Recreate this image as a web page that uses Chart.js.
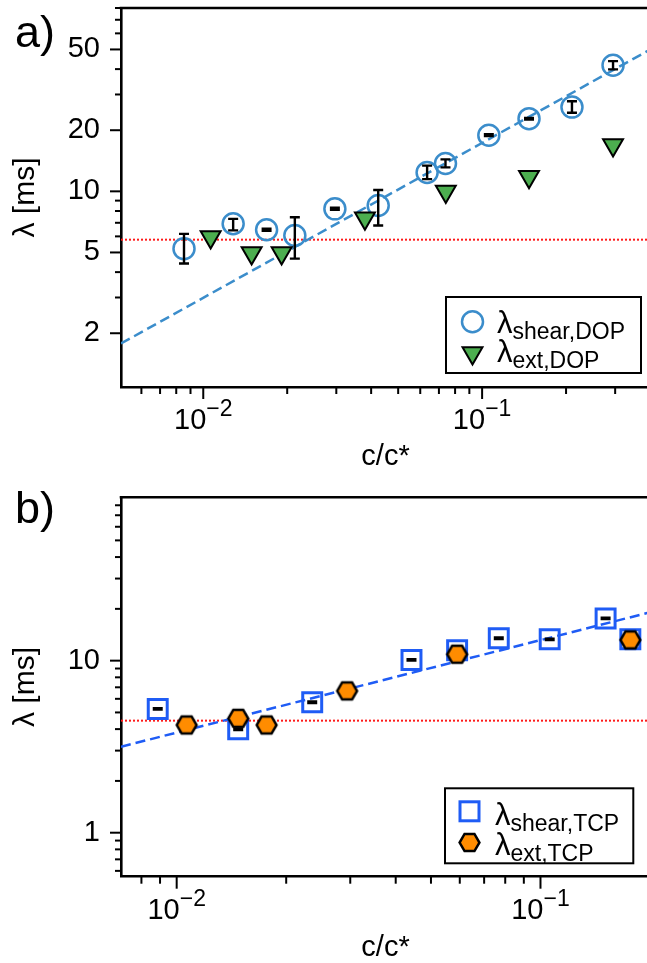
<!DOCTYPE html>
<html><head><meta charset="utf-8">
<script src="https://cdn.jsdelivr.net/npm/chart.js@4"></script>
<style>
html,body{margin:0;padding:0;background:#fff;overflow:hidden;}
#wrap{position:relative;width:647px;height:963px;overflow:hidden;background:#fff;}
#ca{position:absolute;left:0;top:0;}
#cb{position:absolute;left:0;top:470px;}
</style></head><body>
<div id="wrap"><canvas id="ca" width="650" height="490"></canvas><canvas id="cb" width="650" height="510"></canvas></div>
<script>
// ---------- Panel a) DOP ----------
const cShearDOP   = [0.00853, 0.0128, 0.01687, 0.0213, 0.02965, 0.0424, 0.0635, 0.0739, 0.1057, 0.1473, 0.210, 0.2948];
const lamShearDOP = [5.22, 6.92, 6.47, 6.06, 8.2, 8.51, 12.39, 13.72, 18.9, 22.8, 26.0, 41.8];
const errLoShearDOP = [0.81, 0.5, 0.08, 1.4, 0.1, 1.72, 0.9, 0.6, 0.2, 0.2, 1.6, 1.9];
const errHiShearDOP = [0.95, 0.4, 0.08, 1.4, 0.1, 1.65, 1.0, 0.65, 0.2, 0.2, 1.8, 2.0];
const cExtDOP   = [0.01063, 0.01491, 0.0191, 0.038, 0.0741, 0.1473, 0.2948];
const lamExtDOP = [5.95, 4.97, 4.97, 7.37, 9.97, 11.8, 16.9];
const fitDOP_c   = [0.00507, 0.4];
const fitDOP_lam = [1.78, 49.9];
const refDOP = 5.78;

// ---------- Panel b) TCP ----------
const cShearTCP   = [0.00887, 0.01476, 0.02358, 0.0442, 0.059, 0.0768, 0.106, 0.151, 0.1766];
const lamShearTCP = [5.24, 3.99, 5.73, 10.1, 11.5, 13.5, 13.3, 17.6, 13.3];
const errShearTCP = [0.05, 0.04, 0.06, 0.1, 0.12, 0.14, 0.13, 0.18, 0.13];
const cExtTCP   = [0.01065, 0.01476, 0.01767, 0.0294, 0.059, 0.1766];
const lamExtTCP = [4.23, 4.62, 4.23, 6.67, 10.9, 13.2];
const fitTCP_c   = [0.00703, 0.2];
const fitTCP_lam = [3.16, 19.1];
const refTCP = 4.48;

// ---------- ticks / labels ----------
const xTicksA  = [0.006,0.007,0.008,0.009,0.01,0.02,0.03,0.04,0.05,0.06,0.07,0.08,0.09,0.1,0.2,0.3];
const xLabelsA = [0.01, 0.1];
const xLabelTextA = [['10','−2'],['10','−1']];
const yTicksA  = [2,3,4,5,6,7,8,9,10,20,30,40,50,60,70,80];
const yLabelsA = [2,5,10,20,50];
const xTicksB  = [0.008,0.009,0.01,0.02,0.03,0.04,0.05,0.06,0.07,0.08,0.09,0.1,0.2];
const xLabelsB = [0.01, 0.1];
const xLabelTextB = [['10','−2'],['10','−1']];
const yTicksB  = [0.6,0.7,0.8,0.9,1,2,3,4,5,6,7,8,9,10,20,30,40,50,60,70,80];
const yLabelsB = [1,10];

const FONT = "'Liberation Sans', Arial, Helvetica, sans-serif";
const BLUE_A = '#3b8dcb';
const BLUE_B = '#1f5cf5';
const GREEN = '#4cae4f';
const ORANGE = '#ff8c00';
const RED = '#ff1a1a';

function pts(xs, ys){ return xs.map((x,i)=>({x:x, y:ys[i]})); }

function makeHexagon(R, fill, stroke, lw){
  const size = Math.ceil(2*R + lw + 4);
  const c = document.createElement('canvas'); c.width = size; c.height = size;
  const g = c.getContext('2d');
  g.beginPath();
  for (let k=0;k<6;k++){
    const a = Math.PI/3*k;
    const px = size/2 + R*Math.cos(a), py = size/2 + R*Math.sin(a);
    if (k) g.lineTo(px,py); else g.moveTo(px,py);
  }
  g.closePath(); g.fillStyle = fill; g.fill();
  g.lineWidth = lw; g.strokeStyle = stroke; g.lineJoin = 'miter'; g.stroke();
  return c;
}
const HEX = makeHexagon(9.9, ORANGE, '#000', 2.5);

const errorBarPlugin = {
  id: 'errbars',
  afterDatasetDraw(chart, args) {
    const ds = chart.data.datasets[args.index];
    if (!ds.errLo) return;
    const ctx = chart.ctx, xs = chart.scales.x, ys = chart.scales.y;
    const cap = 5;
    ctx.save(); ctx.strokeStyle = '#000'; ctx.lineWidth = 2.4; ctx.lineCap = 'butt';
    ds.data.forEach((p,i)=>{
      const px = xs.getPixelForValue(p.x);
      const yT = ys.getPixelForValue(p.y + ds.errHi[i]);
      const yB = ys.getPixelForValue(p.y - ds.errLo[i]);
      ctx.beginPath();
      ctx.moveTo(px, yT); ctx.lineTo(px, yB);
      ctx.moveTo(px-cap, yT); ctx.lineTo(px+cap, yT);
      ctx.moveTo(px-cap, yB); ctx.lineTo(px+cap, yB);
      ctx.stroke();
    });
    ctx.restore();
  }
};

function drawMarker(ctx, kind, x, y) {
  ctx.save();
  if (kind === 'circle') {
    ctx.beginPath(); ctx.arc(x, y, 10.5, 0, Math.PI*2);
    ctx.lineWidth = 2.5; ctx.strokeStyle = BLUE_A; ctx.stroke();
  } else if (kind === 'tri') {
    const r = 11.5; ctx.beginPath();
    [180, 300, 60].forEach((d,k)=>{ const a = d*Math.PI/180; const px = x + Math.sin(a)*r, py = y - Math.cos(a)*r; k?ctx.lineTo(px,py):ctx.moveTo(px,py); });
    ctx.closePath(); ctx.fillStyle = GREEN; ctx.fill(); ctx.lineWidth = 2; ctx.strokeStyle = '#000'; ctx.stroke();
  } else if (kind === 'rect') {
    const s = 9.5; ctx.lineWidth = 3; ctx.strokeStyle = BLUE_B; ctx.strokeRect(x-s, y-s, 2*s, 2*s);
  } else if (kind === 'hex') {
    ctx.drawImage(HEX, x - HEX.width/2, y - HEX.height/2);
  }
  ctx.restore();
}

const decorPlugin = {
  id: 'decor',
  afterDraw(chart, args, o) {
    const ctx = chart.ctx, ca = chart.chartArea, xs = chart.scales.x, ys = chart.scales.y;
    ctx.save();
    ctx.strokeStyle = '#000';
    // top frame
    ctx.lineWidth = 2.6;
    ctx.beginPath(); ctx.moveTo(ca.left-1.3, ca.top); ctx.lineTo(ca.right+5, ca.top); ctx.stroke();
    // tick marks
    ctx.lineWidth = 2;
    o.yTicks.forEach(v=>{
      const y = ys.getPixelForValue(v);
      if (y < ca.top - 0.5 || y > ca.bottom + 0.5) return;
      const L = o.yLabels.includes(v) ? 11 : 6;
      ctx.beginPath(); ctx.moveTo(ca.left - L, y); ctx.lineTo(ca.left, y); ctx.stroke();
    });
    o.xTicks.forEach(v=>{
      const x = xs.getPixelForValue(v);
      if (x < ca.left - 0.5 || x > ca.right + 0.5) return;
      const L = o.xLabels.includes(v) ? 12 : 7;
      ctx.beginPath(); ctx.moveTo(x, ca.bottom); ctx.lineTo(x, ca.bottom + L); ctx.stroke();
    });
    // x tick labels with superscript exponent
    ctx.fillStyle = '#000'; ctx.textBaseline = 'alphabetic'; ctx.textAlign = 'left';
    o.xLabels.forEach((v,i)=>{
      const x = xs.getPixelForValue(v);
      const [base, sup] = o.xLabelText[i];
      ctx.font = '29px ' + FONT; const wb = ctx.measureText(base).width;
      ctx.font = '23px ' + FONT; const ws = ctx.measureText(sup).width;
      const x0 = x - (wb + ws)/2;
      const yb = ca.bottom + 42;
      ctx.font = '29px ' + FONT; ctx.fillText(base, x0, yb);
      ctx.font = '23px ' + FONT; ctx.fillText(sup, x0 + wb, yb - 13);
    });
    // panel label
    ctx.font = '45px ' + FONT; ctx.fillText(o.panel.text, o.panel.x, o.panel.y);
    // legend
    const lg = o.legend;
    ctx.lineWidth = 2; ctx.strokeStyle = '#000';
    ctx.strokeRect(lg.box[0], lg.box[1], lg.box[2], lg.box[3]);
    lg.items.forEach(it=>{
      drawMarker(ctx, it.marker, lg.mx, it.my);
      ctx.fillStyle = '#000';
      ctx.font = '31px ' + FONT; ctx.fillText('λ', lg.tx, it.base);
      const wl = ctx.measureText('λ').width;
      ctx.font = '23px ' + FONT; ctx.fillText(it.sub, lg.tx + wl, it.base + 6);
    });
    ctx.restore();
  }
};

function buildChart(canvas, c) {
  return new Chart(canvas, {
    type: 'scatter',
    data: { datasets: c.datasets },
    options: {
      responsive: false, animation: false, devicePixelRatio: 1,
      layout: { padding: { top: c.padTop, left: 0, right: 0, bottom: 0 }, autoPadding: false },
      plugins: { legend: { display: false }, tooltip: { enabled: false }, decor: c.decor },
      scales: {
        x: {
          type: 'logarithmic', position: 'bottom', min: c.xMin, max: c.xMax, bounds: 'data',
          grid: { display: false, drawTicks: false },
          border: { display: true, color: '#000', width: 2.6 },
          ticks: { display: false },
          title: { display: true, text: 'c/c*', color: '#000', font: { family: FONT, size: 29 }, padding: { top: 0, bottom: c.xTitlePad } },
          afterBuildTicks: s => { s.ticks = c.decor.xTicks.map(v => ({ value: v })); },
          afterFit: s => { s.height = c.xAxisH; s.paddingLeft = 0; s.paddingRight = 0; }
        },
        y: {
          type: 'logarithmic', position: 'left', min: c.yMin, max: c.yMax, bounds: 'data',
          grid: { display: false, drawTicks: false },
          border: { display: true, color: '#000', width: 2.6 },
          ticks: { autoSkip: false, padding: 21, color: '#000', font: { family: FONT, size: 29 },
                   callback: v => c.decor.yLabels.includes(v) ? String(v) : '' },
          title: { display: true, text: 'λ [ms]', color: '#000', font: { family: FONT, size: 30 }, padding: { top: 8, bottom: 0 } },
          afterBuildTicks: s => { s.ticks = c.decor.yTicks.map(v => ({ value: v })); },
          afterFit: s => { s.width = 121; s.paddingTop = 0; s.paddingBottom = 0; }
        }
      }
    },
    plugins: [errorBarPlugin, decorPlugin]
  });
}

// Panel a
buildChart(document.getElementById('ca'), {
  padTop: 8, xAxisH: 103, xTitlePad: 15.6,
  xMin: 0.00507, xMax: 0.4, yMin: 1.087, yMax: 80,
  datasets: [
    { label: 'fit', data: pts(fitDOP_c, fitDOP_lam), showLine: true, borderColor: BLUE_A, borderWidth: 2.5, borderDash: [10, 5], pointRadius: 0, order: 10 },
    { label: 'ref', data: pts(fitDOP_c, [refDOP, refDOP]), showLine: true, borderColor: RED, borderWidth: 2, borderDash: [2, 2], pointRadius: 0, order: 11 },
    { label: 'λshear,DOP', data: pts(cShearDOP, lamShearDOP), errLo: errLoShearDOP, errHi: errHiShearDOP,
      pointStyle: 'circle', pointRadius: 10.5, pointBorderWidth: 2.5, pointBorderColor: BLUE_A, pointBackgroundColor: 'rgba(0,0,0,0)', order: 2 },
    { label: 'λext,DOP', data: pts(cExtDOP, lamExtDOP),
      pointStyle: 'triangle', pointRotation: 180, pointRadius: 11.5, pointBorderWidth: 2, pointBorderColor: '#000', pointBackgroundColor: GREEN, order: 1 }
  ],
  decor: {
    xTicks: xTicksA, xLabels: xLabelsA, xLabelText: xLabelTextA, yTicks: yTicksA, yLabels: yLabelsA,
    panel: { text: 'a)', x: 15, y: 47 },
    legend: { box: [446, 297, 195, 76], mx: 472.5, tx: 497,
      items: [ { marker: 'circle', my: 321.7, base: 333, sub: 'shear,DOP' },
               { marker: 'tri', my: 353, base: 362, sub: 'ext,DOP' } ] }
  }
});

// Panel b
buildChart(document.getElementById('cb'), {
  padTop: 27.3, xAxisH: 103.3, xTitlePad: 14.6,
  xMin: 0.00703, xMax: 0.2, yMin: 0.555, yMax: 89,
  datasets: [
    { label: 'fit', data: pts(fitTCP_c, fitTCP_lam), showLine: true, borderColor: BLUE_B, borderWidth: 2.5, borderDash: [10, 5], pointRadius: 0, order: 10 },
    { label: 'ref', data: pts(fitTCP_c, [refTCP, refTCP]), showLine: true, borderColor: RED, borderWidth: 2, borderDash: [2, 2], pointRadius: 0, order: 11 },
    { label: 'λshear,TCP', data: pts(cShearTCP, lamShearTCP), errLo: errShearTCP, errHi: errShearTCP,
      pointStyle: 'rect', pointRadius: 13.4, pointBorderWidth: 3, pointBorderColor: BLUE_B, pointBackgroundColor: 'rgba(0,0,0,0)', order: 2 },
    { label: 'λext,TCP', data: pts(cExtTCP, lamExtTCP),
      pointStyle: HEX, pointRadius: 10, order: 1 }
  ],
  decor: {
    xTicks: xTicksB, xLabels: xLabelsB, xLabelText: xLabelTextB, yTicks: yTicksB, yLabels: yLabelsB,
    panel: { text: 'b)', x: 15, y: 53 },
    legend: { box: [445, 318.3, 188.3, 75], mx: 469.5, tx: 495,
      items: [ { marker: 'rect', my: 341.3, base: 355, sub: 'shear,TCP' },
               { marker: 'hex', my: 372.5, base: 385, sub: 'ext,TCP' } ] }
  }
});
</script>
</body></html>
